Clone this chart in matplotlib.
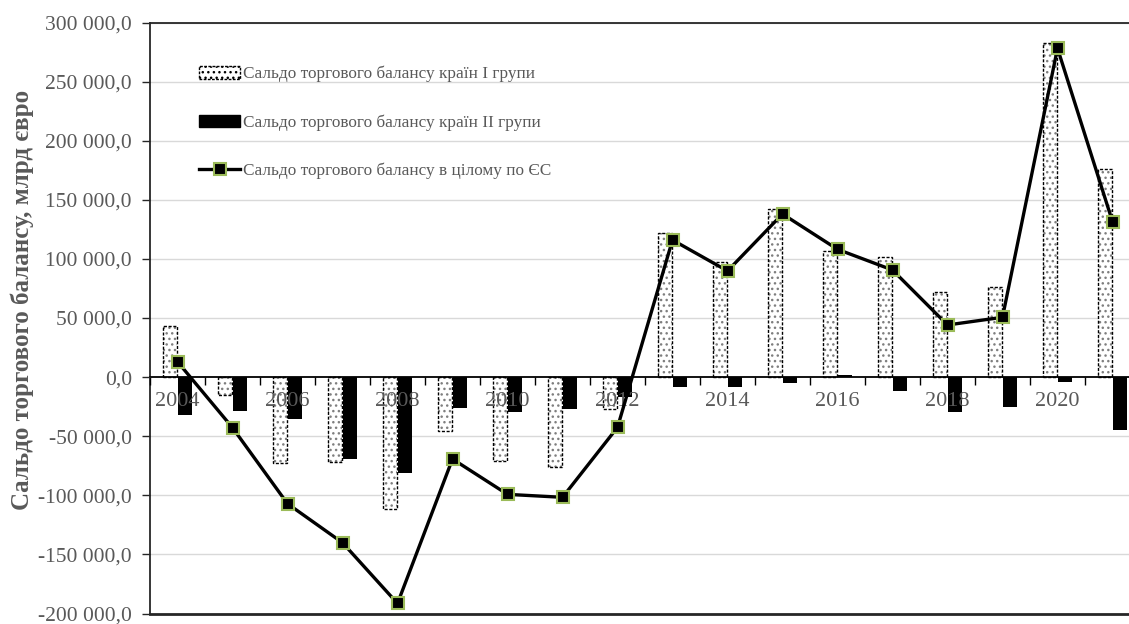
import matplotlib
matplotlib.use("Agg")
import matplotlib.pyplot as plt
from matplotlib.lines import Line2D
from matplotlib.patches import Patch
from matplotlib.ticker import FixedLocator, FuncFormatter
import numpy as np

plt.rcParams["font.family"] = ["Liberation Serif", "DejaVu Serif"]
plt.rcParams["axes.unicode_minus"] = False
plt.rcParams["hatch.color"] = "#7f7f7f"
plt.rcParams["hatch.linewidth"] = 1.0

years = list(range(2004, 2022))
group1 = [43300, -15100, -72900, -71800, -111900, -45600, -70700, -75800, -27000,
          122200, 97100, 142200, 106900, 101900, 72300, 76000, 282400, 175800]
group2 = [-32100, -28400, -35800, -69600, -80900, -25900, -29300, -27300, -17000,
          -8100, -8100, -5300, 1500, -11800, -29200, -25600, -4400, -44800]
eu_total = [13000, -42800, -107100, -140100, -191500, -69300, -99200, -101700, -42500,
            116000, 89800, 138000, 108100, 90600, 44100, 50600, 278200, 131500]

label1 = "Сальдо торгового балансу країн І групи"
label2 = "Сальдо торгового балансу країн ІІ групи"
label3 = "Сальдо торгового балансу в цілому по ЄС"
ylabel = "Сальдо торгового балансу, млрд євро"

GRAY_TEXT = "#595959"
GRID = "#d9d9d9"
AXIS = "#262626"
GREEN = "#9bbb59"

W, H = 1129, 624
fig = plt.figure(figsize=(W / 100, H / 100), dpi=100)
ax = fig.add_axes([150 / W, 10.5 / H, 990 / W, 591 / H])

x = np.arange(len(years))
bw = 0.24
off = 0.137

# gridlines behind everything
for g in range(-150000, 300001, 50000):
    if g != 0:
        ax.axhline(g, color=GRID, lw=1.0, zorder=0)

# group I: dotted fill + dashed outline
ax.bar(x - off, group1, bw, color="white", hatch="...", edgecolor="#7f7f7f",
       linewidth=0, zorder=1)
ax.bar(x - off, group1, bw, fill=False, edgecolor="black", linewidth=1.0,
       linestyle=(0, (2.2, 1.2)), zorder=1.1)
# group II: solid black
ax.bar(x + off, group2, bw, color="black", linewidth=0, zorder=1.2)

# EU total line
ax.plot(x, eu_total, color="black", lw=2.4, marker="s", markersize=8,
        markerfacecolor="black", markeredgecolor=GREEN, markeredgewidth=1.5,
        zorder=3)

ax.set_xlim(-0.5, len(years) - 0.5)
ax.set_ylim(-200000, 300000)

ax.set_axisbelow(False)
ax.spines["bottom"].set_position(("data", 0))
ax.spines["bottom"].set_color("black")
ax.spines["bottom"].set_linewidth(1.3)
ax.spines["left"].set_color(AXIS)
ax.spines["left"].set_linewidth(1.3)
ax.spines["top"].set_color(AXIS)
ax.spines["top"].set_linewidth(1.3)
ax.spines["right"].set_visible(False)
ax.axhline(-200000, color=AXIS, lw=2.0, zorder=2.5, clip_on=False)

# category boundaries as major ticks, labels on minor ticks (every 2nd year)
ax.xaxis.set_major_locator(FixedLocator(np.arange(-0.5, len(years), 1.0)))
ax.xaxis.set_major_formatter(FuncFormatter(lambda v, p: ""))
lab_pos = [i for i, yv in enumerate(years) if yv % 2 == 0]
ax.xaxis.set_minor_locator(FixedLocator(lab_pos))
ax.xaxis.set_minor_formatter(FuncFormatter(lambda v, p: str(years[int(round(v))])))
ax.tick_params(axis="x", which="major", direction="out", length=6, width=1.0,
               color="black")
ax.tick_params(axis="x", which="minor", length=0, pad=11, labelsize=16,
               labelcolor=GRAY_TEXT)

ax.yaxis.set_major_locator(FixedLocator(np.arange(-200000, 300001, 50000)))
ax.yaxis.set_major_formatter(
    FuncFormatter(lambda v, p: f"{v:,.1f}".replace(",", " ").replace(".", ",")))
ax.tick_params(axis="y", direction="out", length=6, width=1.0, color=AXIS,
               pad=7, labelsize=15.5, labelcolor=GRAY_TEXT)

fig.text(22 / W, 1 - 300 / H, ylabel, rotation=90, ha="center", va="center",
         fontsize=18, fontweight="bold", color=GRAY_TEXT)

handles = [
    Patch(facecolor="white", hatch="...", edgecolor="black", linestyle=(0, (2, 1)),
          linewidth=1.0),
    Patch(facecolor="black", edgecolor="black"),
    Line2D([0], [0], color="black", lw=2.4, marker="s", markersize=8,
           markerfacecolor="black", markeredgecolor=GREEN, markeredgewidth=1.5),
]
leg = ax.legend(handles, [label1, label2, label3], loc="upper left",
                bbox_to_anchor=(199 / W, 1 - 66 / H), bbox_transform=fig.transFigure,
                frameon=False, fontsize=12.4, labelcolor=GRAY_TEXT,
                handlelength=2.4, handleheight=0.75, handletextpad=0.15,
                labelspacing=1.85, borderaxespad=0, borderpad=0)

fig.savefig("out.png", dpi=100)
